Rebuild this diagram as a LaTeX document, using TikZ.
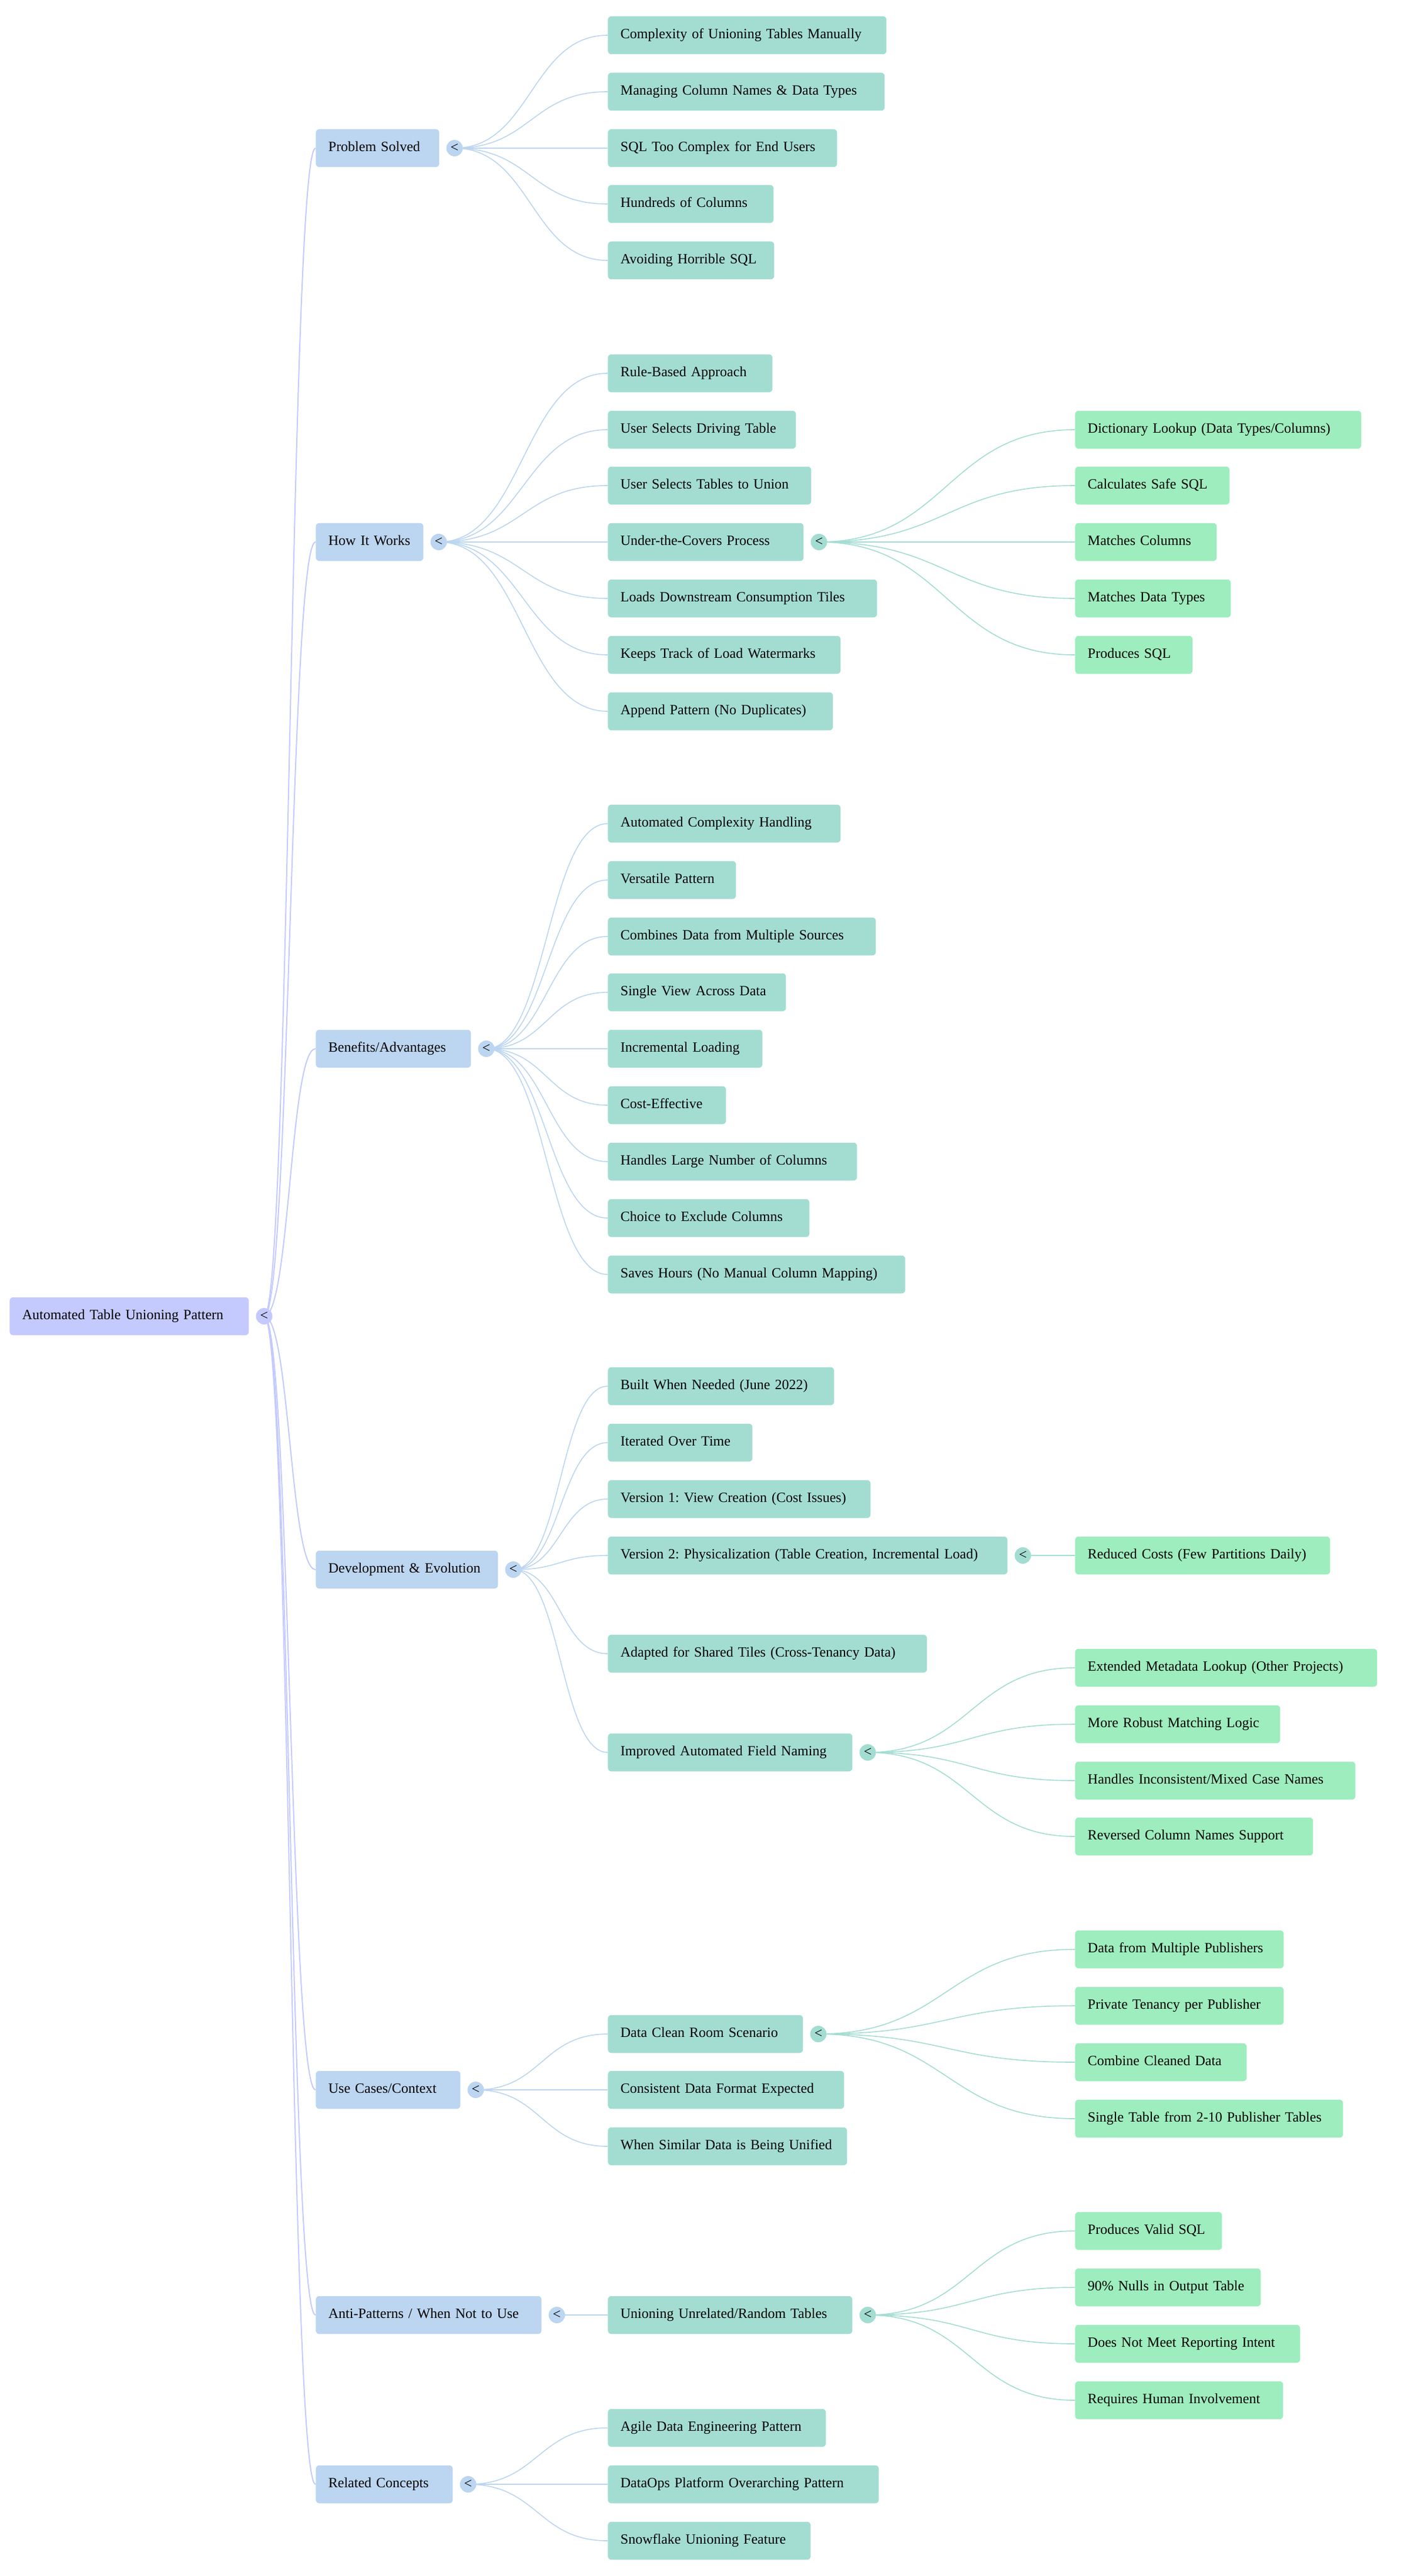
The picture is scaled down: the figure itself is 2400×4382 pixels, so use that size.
\documentclass[tikz,border=0pt]{standalone}
\usepackage{fontspec}
\setmainfont{Liberation Serif}
\usetikzlibrary{calc}
\pgfdeclarelayer{bg}
\pgfsetlayers{bg,main}
\frenchspacing
\definecolor{rootc}{RGB}{196,202,254}
\definecolor{l1c}{RGB}{188,213,240}
\definecolor{l2c}{RGB}{163,221,210}
\definecolor{l3c}{RGB}{158,237,190}
\tikzset{
  basebox/.style={rectangle, rounded corners=3pt, anchor=west, minimum height=32.25pt,
    inner xsep=10.75pt, inner ysep=0pt, align=left, font=\fontsize{12}{14}\selectfont\frenchspacing,
    text height=8.4pt, text depth=3pt},
  rootbox/.style={basebox, fill=rootc},
  lonebox/.style={basebox, fill=l1c},
  ltwobox/.style={basebox, fill=l2c},
  lthreebox/.style={basebox, fill=l3c},
  tog/.style={circle, minimum size=14pt, inner sep=0pt, font=\fontsize{12}{14}\selectfont},
  ezero/.style={draw=rootc, line width=1pt},
  eone/.style={draw=l1c, line width=0.8pt},
  etwo/.style={draw=l2c, line width=0.8pt}
}
\newcommand\nd[6]{\pgfmathsetlengthmacro\tw{(#5-43)*0.5pt}\node[#1,text width=\tw] (#2) at (#3,#4) {\mbox{#6}};}
\newcommand\lnk[3]{\draw[#3] let \p1=(#1.center), \p2=(#2.west) in (\p1) .. controls ({(\x1+\x2)/2},\y1) and ({(\x1+\x2)/2},\y2) .. (\p2);}
\begin{document}
\begin{tikzpicture}[x=0.5pt,y=-0.5pt]
\useasboundingbox (0,0) rectangle (2400,4382);
% root
\nd{rootbox}{root}{16}{2239}{407}{Automated Table Unioning Pattern}
\node[tog,fill=rootc] (roott) at (449.5,2239) {<};
% level 1
\nd{lonebox}{ps}{537}{252}{210}{Problem Solved}
\node[tog,fill=l1c] (pst) at (773.5,252) {<};
\nd{lonebox}{hw}{537}{922}{183}{How It Works}
\node[tog,fill=l1c] (hwt) at (746.5,922) {<};
\nd{lonebox}{ba}{537}{1784}{264}{Benefits/Advantages}
\node[tog,fill=l1c] (bat) at (827.5,1784) {<};
\nd{lonebox}{de}{537}{2670}{310}{Development \& Evolution}
\node[tog,fill=l1c] (det) at (873.5,2670) {<};
\nd{lonebox}{uc}{537}{3555}{246}{Use Cases/Context}
\node[tog,fill=l1c] (uct) at (809.5,3555) {<};
\nd{lonebox}{ap}{537}{3938}{384}{Anti-Patterns / When Not to Use}
\node[tog,fill=l1c] (apt) at (947.5,3938) {<};
\nd{lonebox}{rc}{537}{4226}{233}{Related Concepts}
\node[tog,fill=l1c] (rct) at (796.5,4226) {<};
% level 2 : Problem Solved
\nd{ltwobox}{psa}{1034}{60}{474}{Complexity of Unioning Tables Manually}
\nd{ltwobox}{psb}{1034}{156}{471}{Managing Column Names \& Data Types}
\nd{ltwobox}{psc}{1034}{252}{390}{SQL Too Complex for End Users}
\nd{ltwobox}{psd}{1034}{347}{282}{Hundreds of Columns}
\nd{ltwobox}{pse}{1034}{443}{283}{Avoiding Horrible SQL}
% How It Works
\nd{ltwobox}{hwa}{1034}{635}{280}{Rule-Based Approach}
\nd{ltwobox}{hwb}{1034}{731}{320}{User Selects Driving Table}
\nd{ltwobox}{hwc}{1034}{826}{346}{User Selects Tables to Union}
\nd{ltwobox}{hwd}{1034}{922}{333}{Under-the-Covers Process}
\node[tog,fill=l2c] (hwdt) at (1393.5,922) {<};
\nd{ltwobox}{hwe}{1034}{1018}{458}{Loads Downstream Consumption Tiles}
\nd{ltwobox}{hwf}{1034}{1114}{396}{Keeps Track of Load Watermarks}
\nd{ltwobox}{hwg}{1034}{1210}{383}{Append Pattern (No Duplicates)}
% Under-the-Covers children
\nd{lthreebox}{uca}{1829}{731}{487}{Dictionary Lookup (Data Types/Columns)}
\nd{lthreebox}{ucb}{1829}{826}{263}{Calculates Safe SQL}
\nd{lthreebox}{ucc}{1829}{922}{241}{Matches Columns}
\nd{lthreebox}{ucd}{1829}{1018}{265}{Matches Data Types}
\nd{lthreebox}{uce}{1829}{1114}{200}{Produces SQL}
% Benefits
\nd{ltwobox}{baa}{1034}{1401}{396}{Automated Complexity Handling}
\nd{ltwobox}{bab}{1034}{1497}{218}{Versatile Pattern}
\nd{ltwobox}{bac}{1034}{1593}{456}{Combines Data from Multiple Sources}
\nd{ltwobox}{bad}{1034}{1688}{303}{Single View Across Data}
\nd{ltwobox}{bae}{1034}{1784}{263}{Incremental Loading}
\nd{ltwobox}{baf}{1034}{1880}{201}{Cost-Effective}
\nd{ltwobox}{bag}{1034}{1976}{424}{Handles Large Number of Columns}
\nd{ltwobox}{bah}{1034}{2072}{343}{Choice to Exclude Columns}
\nd{ltwobox}{bai}{1034}{2168}{506}{Saves Hours (No Manual Column Mapping)}
% Development
\nd{ltwobox}{dea}{1034}{2358}{385}{Built When Needed (June 2022)}
\nd{ltwobox}{deb}{1034}{2454}{246}{Iterated Over Time}
\nd{ltwobox}{dec}{1034}{2550}{447}{Version 1: View Creation (Cost Issues)}
\nd{ltwobox}{ded}{1034}{2646}{680}{Version 2: Physicalization (Table Creation, Incremental Load)}
\node[tog,fill=l2c] (dedt) at (1740.5,2646) {<};
\nd{ltwobox}{dee}{1034}{2813}{543}{Adapted for Shared Tiles (Cross-Tenancy Data)}
\nd{ltwobox}{def}{1034}{2981}{416}{Improved Automated Field Naming}
\node[tog,fill=l2c] (deft) at (1476.5,2981) {<};
\nd{lthreebox}{v2a}{1829}{2646}{434}{Reduced Costs (Few Partitions Daily)}
\nd{lthreebox}{ima}{1829}{2837}{514}{Extended Metadata Lookup (Other Projects)}
\nd{lthreebox}{imb}{1829}{2933}{349}{More Robust Matching Logic}
\nd{lthreebox}{imc}{1829}{3029}{477}{Handles Inconsistent/Mixed Case Names}
\nd{lthreebox}{imd}{1829}{3124}{405}{Reversed Column Names Support}
% Use Cases
\nd{ltwobox}{uca2}{1034}{3460}{332}{Data Clean Room Scenario}
\node[tog,fill=l2c] (uca2t) at (1392.5,3460) {<};
\nd{ltwobox}{ucb2}{1034}{3555}{402}{Consistent Data Format Expected}
\nd{ltwobox}{ucc2}{1034}{3651}{407}{When Similar Data is Being Unified}
\nd{lthreebox}{dca}{1829}{3316}{355}{Data from Multiple Publishers}
\nd{lthreebox}{dcb}{1829}{3412}{355}{Private Tenancy per Publisher}
\nd{lthreebox}{dcc}{1829}{3508}{292}{Combine Cleaned Data}
\nd{lthreebox}{dcd}{1829}{3604}{456}{Single Table from 2-10 Publisher Tables}
% Anti-Patterns
\nd{ltwobox}{apa}{1034}{3938}{416}{Unioning Unrelated/Random Tables}
\node[tog,fill=l2c] (apat) at (1476.5,3938) {<};
\nd{lthreebox}{ura}{1829}{3795}{250}{Produces Valid SQL}
\nd{lthreebox}{urb}{1829}{3891}{316}{90\% Nulls in Output Table}
\nd{lthreebox}{urc}{1829}{3987}{383}{Does Not Meet Reporting Intent}
\nd{lthreebox}{urd}{1829}{4083}{354}{Requires Human Involvement}
% Related
\nd{ltwobox}{rca}{1034}{4130}{371}{Agile Data Engineering Pattern}
\nd{ltwobox}{rcb}{1034}{4226}{461}{DataOps Platform Overarching Pattern}
\nd{ltwobox}{rcc}{1034}{4322}{345}{Snowflake Unioning Feature}
% connectors
\begin{pgfonlayer}{bg}
\foreach \c in {ps,hw,ba,de,uc,ap,rc} {\lnk{roott}{\c}{ezero}}
\foreach \c in {psa,psb,psc,psd,pse} {\lnk{pst}{\c}{eone}}
\foreach \c in {hwa,hwb,hwc,hwd,hwe,hwf,hwg} {\lnk{hwt}{\c}{eone}}
\foreach \c in {baa,bab,bac,bad,bae,baf,bag,bah,bai} {\lnk{bat}{\c}{eone}}
\foreach \c in {dea,deb,dec,ded,dee,def} {\lnk{det}{\c}{eone}}
\foreach \c in {uca2,ucb2,ucc2} {\lnk{uct}{\c}{eone}}
\foreach \c in {apa} {\lnk{apt}{\c}{eone}}
\foreach \c in {rca,rcb,rcc} {\lnk{rct}{\c}{eone}}
\foreach \c in {uca,ucb,ucc,ucd,uce} {\lnk{hwdt}{\c}{etwo}}
\foreach \c in {v2a} {\lnk{dedt}{\c}{etwo}}
\foreach \c in {ima,imb,imc,imd} {\lnk{deft}{\c}{etwo}}
\foreach \c in {dca,dcb,dcc,dcd} {\lnk{uca2t}{\c}{etwo}}
\foreach \c in {ura,urb,urc,urd} {\lnk{apat}{\c}{etwo}}
\end{pgfonlayer}
\end{tikzpicture}
\end{document}
